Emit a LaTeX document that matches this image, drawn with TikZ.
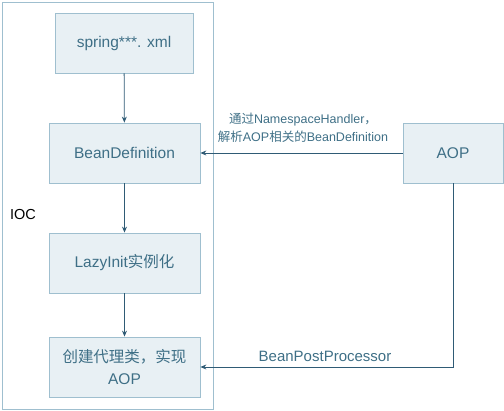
\documentclass[tikz,border=0pt]{standalone}
\usepackage{fontspec}
\setmainfont{Liberation Sans}
\newfontfamily\cjk{Noto Sans CJK SC}
\usetikzlibrary{arrows.meta}
\definecolor{boxfill}{HTML}{E8F0F4}
\definecolor{boxline}{HTML}{9FBFCF}
\definecolor{txt}{HTML}{3E6F86}
\definecolor{arr}{HTML}{2F5B75}
\begin{document}
\begin{tikzpicture}[x=1pt,y=-1pt,
  blk/.style={draw=boxline, fill=boxfill, line width=0.8pt, text=txt, font=\fontsize{15.5}{22}\selectfont, align=center, inner sep=0pt},
  conn/.style={draw=arr, line width=0.8pt, -{Stealth[length=6pt,width=5pt]}},
  lbl/.style={text=txt, align=center, inner sep=0pt}]
\useasboundingbox (0,0) rectangle (504,411);
\node[draw=boxline, line width=0.8pt, minimum width=211pt, minimum height=407pt, inner sep=0pt] (ioc) at (107.5,205.5) {};
\node[lbl, text=black, font=\fontsize{14.5}{16}\selectfont] (ioclbl) at (23,215) {IOC};
\node[blk, minimum width=138pt, minimum height=60pt] (xml) at (124,43) {spring***. xml};
\node[blk, minimum width=151pt, minimum height=60pt] (bd) at (124.5,153) {BeanDefinition};
\node[blk, minimum width=151pt, minimum height=60pt] (lazy) at (124.5,263) {LazyInit{\cjk 实例化}};
\node[blk, minimum width=151pt, minimum height=60pt] (proxy) at (124.5,367) {{\cjk 创建代理类，实现}\\AOP};
\node[blk, minimum width=100pt, minimum height=60pt] (aop) at (453,153) {AOP};
\coordinate (corner) at (aop.south |- proxy.east);
\draw[conn] (xml) -- (bd);
\draw[conn] (bd) -- (lazy);
\draw[conn] (lazy) -- (proxy);
\draw[conn] (aop) -- (bd);
\draw[conn] (aop.south) -- (corner) -- (proxy.east);
\node[lbl, font=\fontsize{12.5}{18}\selectfont] (l1) at (303,128) {{\cjk 通过}NamespaceHandler{\cjk ，}\\{\cjk 解析}AOP{\cjk 相关的}BeanDefinition};
\node[lbl, font=\fontsize{15}{17}\selectfont] (l2) at (325,356) {BeanPostProcessor};
\end{tikzpicture}
\end{document}
